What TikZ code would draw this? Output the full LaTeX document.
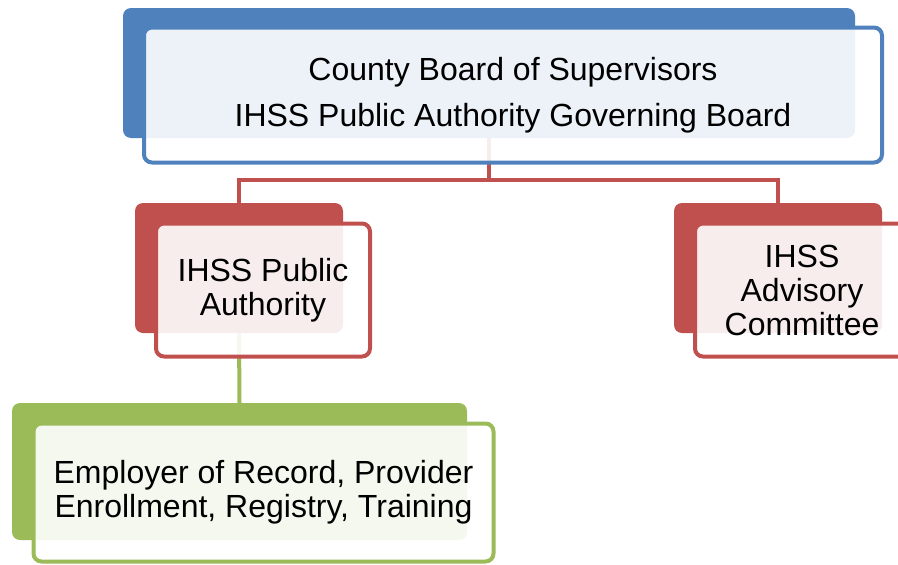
\documentclass[tikz,border=0pt]{standalone}
\usepackage{fontspec}
\setmainfont{Liberation Sans}
\usetikzlibrary{positioning}
\definecolor{bluebox}{HTML}{4F81BD}
\definecolor{redbox}{HTML}{C0504D}
\definecolor{greenbox}{HTML}{9BBB59}

\begin{document}
\begin{tikzpicture}[x=1pt,y=-1pt,
        back/.style={fill=#1, draw=none, rounded corners=8pt, inner sep=0pt},
        front/.style={draw=#1, line width=4pt, fill=white, fill opacity=0.9,
            text opacity=1, rounded corners=8pt, inner sep=0pt, align=center,
            font=\fontsize{32}{34}\selectfont},
        link/.style={draw=#1, line width=4pt}]
    \useasboundingbox (0,0) rectangle (898,565);
    % back panels
    \node[back=bluebox, minimum width=732pt, minimum height=130pt] (boardbk) at (489,73) {};
    \node[back=redbox, minimum width=208pt, minimum height=130pt] (pabk) at (239,268) {};
    \node[back=redbox, minimum width=208pt, minimum height=130pt] (acbk) at (778,268) {};
    \node[back=greenbox, minimum width=455pt, minimum height=137pt] (eorbk) at (239.5,471.5) {};
    % connectors
    \draw[link=redbox] (boardbk.south) -- ++(0,42) coordinate (split) -| (pabk.north);
    \draw[link=redbox] (split) -| (acbk.north);
    \draw[link=greenbox] (pabk.south) -- (eorbk.north);
    % front panels
    \node[front=bluebox, minimum width=738pt, minimum height=135pt] (board)
        at ([shift={(24,22)}]boardbk.center)
        {County Board of Supervisors\\[12pt]IHSS Public Authority Governing Board};
    \node[front=redbox, minimum width=214pt, minimum height=133pt] (pa)
        at ([shift={(24,22)}]pabk.center) {IHSS Public\\Authority};
    \node[front=redbox, minimum width=214pt, minimum height=133pt] (ac)
        at ([shift={(24,22)}]acbk.center) {IHSS\\Advisory\\Committee};
    \node[front=greenbox, minimum width=460pt, minimum height=138pt] (eor)
        at ([shift={(24,21)}]eorbk.center)
        {Employer of Record, Provider\\Enrollment, Registry, Training};
\end{tikzpicture}
\end{document}
